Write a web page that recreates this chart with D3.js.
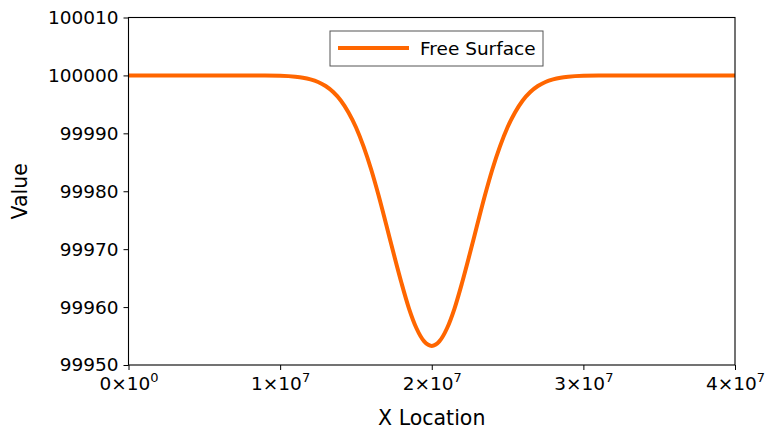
<!DOCTYPE html>
<html>
<head>
<meta charset="utf-8">
<script src="https://cdn.jsdelivr.net/npm/d3@7"></script>
<style>
  body { margin: 0; background: #fff; }
  text { font-family: "DejaVu Sans", sans-serif; fill: #000; }
</style>
</head>
<body>
<svg id="chart"></svg>
<script>
// x positions, in units of 1e6 (metres)
var xLoc = [0, 5, 9, 10, 11, 11.5, 12, 12.5, 13, 13.5, 14, 14.5, 15, 15.5, 16, 16.5, 17, 17.5, 18, 18.5, 19, 19.5,
            20, 20.5, 21, 21.5, 22, 22.5, 23, 23.5, 24, 24.5, 25, 25.5, 26, 26.5, 27, 27.5, 28, 28.5, 29, 30, 31, 35, 40];
var freeSurface = [100000, 100000, 99999.98, 99999.94, 99999.78, 99999.61, 99999.32, 99998.87, 99998.17, 99997.14,
                   99995.68, 99993.65, 99991.06, 99987.75, 99983.8, 99979.22, 99974.2, 99969.11, 99964.2, 99959.75,
                   99956.3, 99954.07, 99953.3, 99954.07, 99956.3, 99959.75, 99964.2, 99969.11, 99974.2, 99979.22,
                   99983.8, 99987.75, 99991.06, 99993.65, 99995.68, 99997.14, 99998.17, 99998.87, 99999.32, 99999.61,
                   99999.78, 99999.94, 99999.98, 100000, 100000];
var xTicks = [0, 1, 2, 3, 4];          // mantissa of tick * 10^7
var xExp = ["0", "7", "7", "7", "7"];
var yTicks = [99950, 99960, 99970, 99980, 99990, 100000, 100010];

var w = 767, h = 433;
var mLeft = 128.5, mRight = 735, mTop = 17.5, mBottom = 365;

var svg = d3.select("#chart").attr("width", w).attr("height", h);

var x = d3.scaleLinear().domain([0, 4e7]).range([mLeft, mRight]);
var y = d3.scaleLinear().domain([99950, 100010]).range([mBottom, mTop]);

var data = xLoc.map(function(d, i) { return { x: d * 1e6, y: freeSurface[i] }; });

var line = d3.line()
  .x(function(d) { return x(d.x); })
  .y(function(d) { return y(d.y); })
  .curve(d3.curveMonotoneX);

svg.append("defs").append("clipPath").attr("id", "clip")
  .append("rect").attr("x", mLeft).attr("y", mTop).attr("width", mRight - mLeft).attr("height", mBottom - mTop);

svg.append("path")
  .datum(data)
  .attr("clip-path", "url(#clip)")
  .attr("fill", "none")
  .attr("stroke", "#ff6600")
  .attr("stroke-width", 4)
  .attr("d", line);

// frame
svg.append("rect")
  .attr("x", mLeft).attr("y", mTop)
  .attr("width", mRight - mLeft).attr("height", mBottom - mTop)
  .attr("fill", "none").attr("stroke", "#000").attr("stroke-width", 1.1);

// y axis
var yAxis = svg.append("g").attr("transform", "translate(" + mLeft + ",0)")
  .call(d3.axisLeft(y).tickValues(yTicks).tickFormat(d3.format("d")).tickSize(5).tickPadding(5));
yAxis.select(".domain").remove();
yAxis.selectAll("text").style("font-size", "18.5px").attr("font-family", "DejaVu Sans").attr("fill", "#000");

// x axis
var xAxis = svg.append("g").attr("transform", "translate(0," + mBottom + ")")
  .call(d3.axisBottom(x).tickValues(xTicks.map(function(d) { return d * 1e7; })).tickSize(5).tickFormat(""));
xAxis.select(".domain").remove();

xAxis.selectAll(".tick").each(function(d, i) {
  var t = d3.select(this).append("text")
    .attr("y", 25)
    .attr("text-anchor", "middle")
    .style("font-size", "18.5px")
    .attr("fill", "#000");
  t.append("tspan").text(xTicks[i] + "\u00d710");
  t.append("tspan").attr("dy", -8).style("font-size", "13px").text(xExp[i]);
});

// axis titles
svg.append("text")
  .attr("x", x(2e7)).attr("y", 425)
  .attr("text-anchor", "middle")
  .style("font-size", "20.5px")
  .text("X Location");

svg.append("text")
  .attr("transform", "translate(27," + ((mTop + mBottom) / 2) + ") rotate(-90)")
  .attr("text-anchor", "middle")
  .style("font-size", "20.5px")
  .text("Value");

// legend
var lg = svg.append("g").attr("transform", "translate(330,31)");
lg.append("rect").attr("width", 213).attr("height", 35)
  .attr("fill", "#fff").attr("stroke", "#555").attr("stroke-width", 1);
lg.append("line").attr("x1", 8).attr("x2", 79).attr("y1", 17).attr("y2", 17)
  .attr("stroke", "#ff6600").attr("stroke-width", 4);
lg.append("text").attr("x", 90).attr("y", 23.5).style("font-size", "18.5px").text("Free Surface");
</script>
</body>
</html>
